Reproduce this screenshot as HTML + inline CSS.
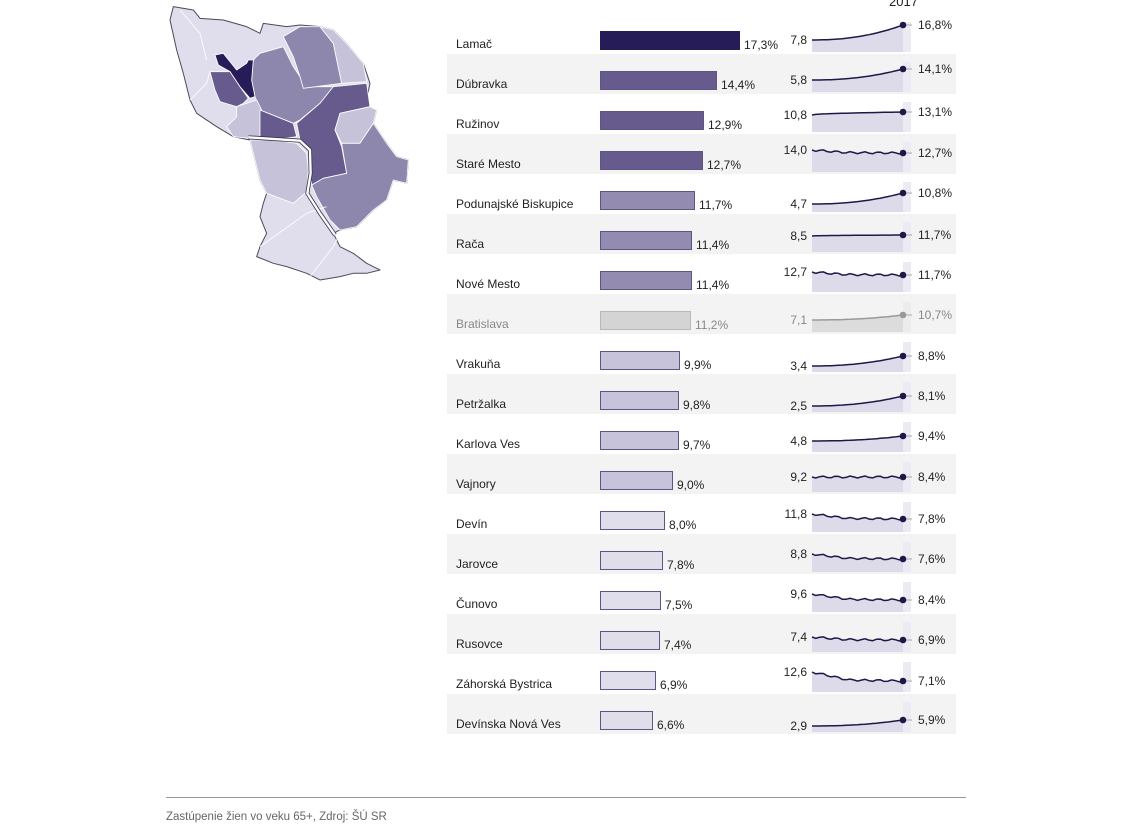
<!DOCTYPE html>
<html><head><meta charset="utf-8">
<style>
body{margin:0;width:1133px;height:827px;background:#fff;font-family:"Liberation Sans",sans-serif;position:relative;overflow:hidden;color:#222}
.t{position:absolute;font-size:12px;white-space:nowrap;line-height:14px}
.bar{position:absolute;height:17px;box-sizing:border-box;border:1.5px solid #6a6090}
#rows{position:absolute;left:0;top:0}
</style></head><body>
<svg style="position:absolute;left:0;top:0" width="1133" height="827">
<g id="bands"></g>
<g transform="translate(160,0) scale(0.3333)" stroke-linejoin="round">
<polygon fill="#e0dded" stroke="#4a4a5a" stroke-width="3" points="40,20 100,30 120,55 190,60 260,80 300,100 310,70 380,80 420,75 480,80 520,90 560,130 610,190 630,250 615,325 650,330 640,370 680,430 710,470 745,480 740,550 700,540 680,600 640,630 590,680 540,690 520,700 540,740 580,760 620,790 660,810 620,820 580,820 540,830 480,840 440,820 380,800 340,790 290,770 300,740 320,700 300,650 310,610 320,580 300,540 270,420 220,410 170,380 110,340 90,300 70,220 50,150 30,60"/>
<g stroke="#fff" stroke-width="2.5">
<polygon fill="#8e87ad" points="280,180 300,160 370,140 400,200 420,230 430,260 520,260 480,310 420,360 400,370 300,330 285,290 275,240"/>
<polygon fill="#8e87ad" points="370,110 420,80 480,80 520,130 545,250 430,265 420,230 410,200 400,170"/>
<polygon fill="#c6c2d9" points="480,80 520,90 560,130 610,190 620,245 545,250 520,130"/>
<polygon fill="#675a8c" points="520,260 620,250 630,320 540,340 525,390 545,440 560,520 490,535 455,555 450,510 455,460 420,420 410,370 480,310"/>
<polygon fill="#c6c2d9" points="540,340 630,320 650,330 640,370 600,430 545,430 525,390"/>
<polygon fill="#8e87ad" points="545,430 600,430 640,370 680,430 710,470 745,480 740,550 700,540 680,600 640,630 590,680 540,690 510,660 470,590 455,555 490,535 560,520"/>
<polygon fill="#c6c2d9" points="270,420 340,420 410,430 440,460 445,510 440,575 400,610 320,580 300,540"/>
<polygon fill="#c6c2d9" points="230,320 290,300 305,330 300,410 270,415 220,410 200,380 230,350"/>
<polygon fill="#675a8c" points="300,330 400,370 410,410 340,420 300,410"/>
<polygon fill="#675a8c" points="150,215 210,215 240,260 265,295 250,310 230,320 180,305 165,270"/>
<polygon fill="#251c58" points="165,165 190,160 230,210 260,190 265,180 280,180 275,240 285,290 270,295 240,260 210,215 175,195"/>
<polyline fill="none" points="300,740 440,640 500,620"/>
<polyline fill="none" points="450,830 520,740 540,700"/>
<polyline fill="none" points="90,300 140,250 150,215"/>
<polyline fill="none" points="60,30 120,100 140,180"/>
</g>
<polyline fill="none" stroke="#3a3550" stroke-width="12" points="265,412 420,422 450,450 452,520 442,580 480,640 525,705"/>
<polyline fill="none" stroke="#fff" stroke-width="7" points="265,412 420,422 450,450 452,520 442,580 480,640 525,705"/>
</g>
<g id="sp"></g>
<line x1="166" y1="797.5" x2="966" y2="797.5" stroke="#999" stroke-width="1"/>
</svg>
<div class="t" style="left:889px;top:-5px;font-size:13px">2017</div>
<div class="t" style="left:166px;top:810px;color:#666;font-size:11.5px">Zastúpenie žien vo veku 65+, Zdroj: ŠÚ SR</div>
<div id="rows"></div>
<script>
var D=[
["Lamač",17.3,"#251c58","7,8","16,8%",26,11,1],
["Dúbravka",14.4,"#675a8c","5,8","14,1%",26,15,1],
["Ružinov",12.9,"#675a8c","10,8","13,1%",21,18,2],
["Staré Mesto",12.7,"#675a8c","14,0","12,7%",16,19,3],
["Podunajské Biskupice",11.7,"#938cb0","4,7","10,8%",30,19,1],
["Rača",11.4,"#938cb0","8,5","11,7%",22,21,2],
["Nové Mesto",11.4,"#938cb0","12,7","11,7%",18,21,3],
["Bratislava",11.2,"#d4d4d4","7,1","10,7%",26,21,1],
["Vrakuňa",9.9,"#c7c3da","3,4","8,8%",32,22,1],
["Petržalka",9.8,"#c7c3da","2,5","8,1%",32,22,1],
["Karlova Ves",9.7,"#c7c3da","4,8","9,4%",27,22,1],
["Vajnory",9.0,"#c7c3da","9,2","8,4%",23,23,3],
["Devín",8.0,"#e1deeb","11,8","7,8%",20,25,3],
["Jarovce",7.8,"#e1deeb","8,8","7,6%",20,25,3],
["Čunovo",7.5,"#e1deeb","9,6","8,4%",20,26,3],
["Rusovce",7.4,"#e1deeb","7,4","6,9%",23,26,3],
["Záhorská Bystrica",6.9,"#e1deeb","12,6","7,1%",18,27,3],
["Devínska Nová Ves",6.6,"#e1deeb","2,9","5,9%",32,26,1]];
var h="",s="",b="";
D.forEach(function(d,i){
 var y=14+i*40,gray=i==7,c=gray?"#888":"#222",lc=gray?"#999":"#1e1848";
 if(i%2==1)b+='<rect x="447" y="'+y+'" width="509" height="40" fill="#f3f3f3"/>';
 h+='<div class="t" style="left:456px;top:'+(y+23)+'px;color:'+c+'">'+d[0]+'</div>';
 var w=Math.round(d[1]*8.1);
 h+='<div class="bar" style="left:600px;top:'+(y+17)+'px;width:'+w+'px;height:19px;background:'+d[2]+';border-color:'+(gray?"#b8b8b8":(i==0?"#251c58":"#5e5485"))+'"></div>';
 h+='<div class="t" style="left:'+(604+w)+'px;top:'+(y+24)+'px;color:'+c+'">'+d[1].toFixed(1).replace(".",",")+'%</div>';
 h+='<div class="t" style="left:760px;width:47px;text-align:right;top:'+(y+d[5]-7)+'px;color:'+c+'">'+d[3]+'</div>';
 h+='<div class="t" style="left:918px;top:'+(y+d[6]-7)+'px;color:'+c+'">'+d[4]+'</div>';
 var pts=[],N=24;
 for(var k=0;k<=N;k++){var t=k/N,f;
  if(d[7]==1)f=Math.pow(t,2.2);else if(d[7]==2)f=Math.sqrt(t);else f=Math.min(1,t*2.5)*0.8+t*0.2;
  var jit=(d[7]==3)?Math.sin(k*1.7)*1.0:0;
  pts.push((812+91*t).toFixed(1)+","+(y+d[5]+(d[6]-d[5])*f+jit).toFixed(1));}
 s+='<rect x="903" y="'+(y+8)+'" width="8" height="30" fill="'+(gray?"#ececec":"#eceaf3")+'"/>';
 s+='<polygon fill="'+(gray?"#dcdcdc":"#dddbe9")+'" points="812,'+(y+38)+' '+pts.join(" ")+' 903,'+(y+38)+'"/>';
 s+='<polyline fill="none" stroke="'+lc+'" stroke-width="1.5" points="'+pts.join(" ")+'"/>';
 s+='<line x1="906" x2="912" y1="'+(y+d[6])+'" y2="'+(y+d[6])+'" stroke="#aaa"/>';
 s+='<circle cx="903" cy="'+(y+d[6])+'" r="3.3" fill="'+lc+'"/>';
});
document.getElementById("rows").innerHTML=h;
document.getElementById("sp").innerHTML=s;
document.getElementById("bands").innerHTML=b;
</script>
</body></html>
